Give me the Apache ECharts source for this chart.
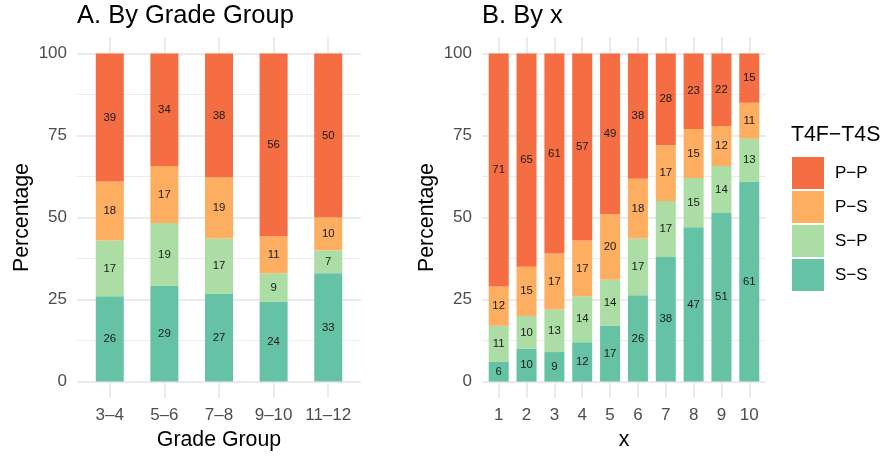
<!DOCTYPE html>
<html><head><meta charset="utf-8">
<script src="https://cdn.jsdelivr.net/npm/echarts@6/dist/echarts.min.js"></script>
<style>html,body{margin:0;padding:0;background:#fff}#c{width:883px;height:456px}</style>
</head><body><div id="c"></div>
<script>
// Panel A: by grade group
const gradeGroups = ['3–4', '5–6', '7–8', '9–10', '11–12'];
const gradeSS = [26, 29.2, 26.8, 24.3, 33];
const gradeSP = [17, 19.1, 16.8, 8.7, 7];
const gradePS = [18, 17.4, 18.6, 11.3, 10];
const gradePP = [39, 34.3, 37.8, 55.7, 50];

// Panel B: by x
const xLevels = ['1', '2', '3', '4', '5', '6', '7', '8', '9', '10'];
const xSS = [6, 10, 9, 12, 17, 26.3, 38, 47, 51.4, 61];
const xSP = [11, 10, 13, 14, 14, 17.3, 17, 15, 14.3, 13];
const xPS = [12, 15, 17, 17, 20, 18.2, 17, 15, 12.2, 11];
const xPP = [71, 65, 61, 57, 49, 38.2, 28, 23, 22.1, 15];

const groupNames = ['S−S', 'S−P', 'P−S', 'P−P'];
const legendOrder = ['P−P', 'P−S', 'S−P', 'S−S'];
const yTicks = [0, 25, 50, 75, 100];
const yMinor = [12.5, 37.5, 62.5, 87.5];

const FONT = '"Liberation Sans", Arial, sans-serif';
const colors = {'S−S': '#66C2A5', 'S−P': '#ABDDA4', 'P−S': '#FDAE61', 'P−P': '#F46D43'};
const GRID = '#EBEBEB';
const PANEL_W = 284, PANEL_TOP = 37, PANEL_H = 361;

const panels = [
  {left: 77, cats: gradeGroups, arrays: [gradeSS, gradeSP, gradePS, gradePP], xName: 'Grade Group', bw: 28},
  {left: 482, cats: xLevels, arrays: [xSS, xSP, xPS, xPP], xName: 'x', bw: 20}
];

const grids = [], xAxes = [], yAxesList = [], series = [];
panels.forEach((p, pi) => {
  const n = p.cats.length;
  const band = PANEL_W / (n + 0.2);
  // background panel grid (gridlines, labels, titles)
  grids.push({left: p.left, top: PANEL_TOP, width: PANEL_W, height: PANEL_H});
  // bar grid (category bands)
  grids.push({left: p.left + 0.1 * band, top: PANEL_TOP, width: n * band, height: PANEL_H});
  const gBg = pi * 2, gBar = pi * 2 + 1;
  const pos = p.cats.map((c, i) => i + 1);
  xAxes.push({
    type: 'value', gridIndex: gBg, min: 0.4, max: n + 0.6,
    axisLine: {show: false, onZero: false},
    axisTick: {show: false, customValues: pos},
    axisLabel: {customValues: pos, formatter: v => p.cats[Math.round(v) - 1],
      color: '#4D4D4D', fontSize: 17, margin: 9, fontFamily: FONT},
    splitLine: {show: true, lineStyle: {color: GRID, width: 2}},
    name: p.xName, nameLocation: 'middle', nameGap: 32,
    nameTextStyle: {fontSize: 21.3, color: '#000', fontFamily: FONT}
  });
  xAxes.push({
    type: 'category', gridIndex: gBar, data: p.cats, boundaryGap: true,
    axisLine: {show: false}, axisTick: {show: false}, axisLabel: {show: false}, splitLine: {show: false}
  });
  yAxesList.push({
    type: 'value', gridIndex: gBg, min: -5, max: 105, position: 'left',
    axisLine: {show: false, onZero: false},
    axisTick: {show: false, customValues: yTicks},
    axisLabel: {customValues: yTicks, color: '#4D4D4D', fontSize: 17, margin: 10, fontFamily: FONT},
    splitLine: {show: true, lineStyle: {color: GRID, width: 2}},
    name: 'Percentage', nameLocation: 'middle', nameGap: 44,
    nameTextStyle: {fontSize: 21.3, color: '#000', fontFamily: FONT}
  });
  yAxesList.push({
    type: 'value', gridIndex: gBg, min: -5, max: 105, position: 'left',
    axisLine: {show: false, onZero: false},
    axisTick: {show: false, customValues: yMinor},
    axisLabel: {show: false},
    splitLine: {show: true, lineStyle: {color: GRID, width: 1}}
  });
  yAxesList.push({
    type: 'value', gridIndex: gBar, min: -5, max: 105, position: 'left',
    axisLine: {show: false, onZero: false}, axisTick: {show: false},
    axisLabel: {show: false}, splitLine: {show: false}
  });
  groupNames.forEach((g, k) => {
    series.push({
      type: 'bar', name: g, xAxisIndex: pi * 2 + 1, yAxisIndex: pi * 3 + 2, stack: 'p' + pi,
      barWidth: p.bw,
      data: p.arrays[k],
      itemStyle: {color: colors[g]},
      label: {show: true, position: 'inside', formatter: d => Math.round(d.value),
        fontSize: 11.4, color: '#1a1a1a', fontFamily: FONT}
    });
  });
});

const chart = echarts.init(document.getElementById('c'), null, {renderer: 'canvas'});
chart.setOption({
  animation: false,
  backgroundColor: '#fff',
  textStyle: {fontFamily: FONT},
  title: [
    {text: 'A. By Grade Group', left: 77, top: 3, padding: 0,
      textStyle: {fontSize: 25.5, fontWeight: 'normal', color: '#000', fontFamily: FONT}},
    {text: 'B. By x', left: 482, top: 3, padding: 0,
      textStyle: {fontSize: 25.5, fontWeight: 'normal', color: '#000', fontFamily: FONT}},
    {text: 'T4F−T4S', left: 791, top: 125, padding: 0,
      textStyle: {fontSize: 21.3, fontWeight: 'normal', color: '#000', fontFamily: FONT}}
  ],
  legend: {
    orient: 'vertical', left: 792, top: 157, itemWidth: 32, itemHeight: 32, itemGap: 2,
    icon: 'rect', selectedMode: false, data: legendOrder, padding: 0,
    textStyle: {fontSize: 17, color: '#000', fontFamily: FONT, padding: [0, 0, 0, 6]}
  },
  grid: grids,
  xAxis: xAxes,
  yAxis: yAxesList,
  series: series
});
</script></body></html>
